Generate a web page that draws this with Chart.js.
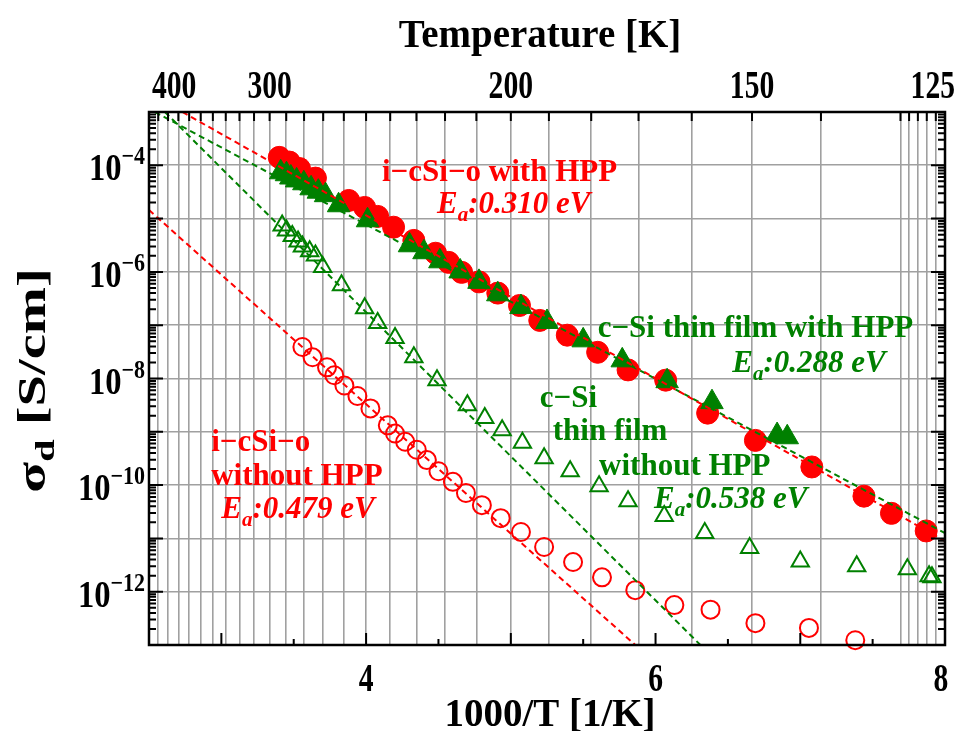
<!DOCTYPE html>
<html>
<head>
<meta charset="utf-8">
<script src="https://cdn.jsdelivr.net/npm/chart.js@4.4.0/dist/chart.umd.min.js"></script>
<style>
  html, body { margin: 0; padding: 0; background: #fff; }
  canvas { display: block; }
</style>
</head>
<body>
<canvas id="chart" width="963" height="731"></canvas>
<script>
// values: x = 1000/T [1/K], y = sigma_d [S/cm]

// i-cSi-o with HPP (red filled circles)
const icsiHppX = [3.40, 3.47, 3.54, 3.65, 3.88, 3.99, 4.08, 4.19, 4.33, 4.48, 4.57, 4.66, 4.78,
    4.91, 5.06, 5.20, 5.39, 5.60, 5.81, 6.07, 6.36, 6.69, 7.08, 7.44, 7.63, 7.87];
const icsiHppY = [1.41e-4, 1.15e-4, 8.7e-5, 5.75e-5, 2.19e-5, 1.62e-5, 1.10e-5, 6.9e-6, 3.9e-6,
    2.24e-6, 1.51e-6, 9.8e-7, 6.5e-7, 4.0e-7, 2.34e-7, 1.23e-7, 6.5e-8, 3.1e-8, 1.45e-8, 9.3e-9,
    2.24e-9, 6.9e-10, 2.19e-10, 6.2e-11, 2.95e-11, 1.38e-11];

// c-Si thin film with HPP (green filled triangles)
const csiHppX = [3.41, 3.45, 3.48, 3.52, 3.57, 3.62, 3.67, 3.72, 3.81, 4.01, 4.30, 4.40, 4.51,
    4.65, 4.78, 4.91, 5.07, 5.25, 5.50, 5.77, 6.08, 6.39, 6.84, 6.91];
const csiHppY = [7.4e-5, 6.8e-5, 5.9e-5, 5.2e-5, 4.6e-5, 3.7e-5, 3.2e-5, 2.75e-5, 1.78e-5, 9.3e-6,
    3.16e-6, 2.34e-6, 1.58e-6, 1.02e-6, 6.5e-7, 3.8e-7, 2.19e-7, 1.15e-7, 5.2e-8, 2.19e-8, 8.9e-9,
    3.6e-9, 8.7e-10, 7.9e-10];

// c-Si thin film without HPP (green open triangles)
const csiX = [3.42, 3.45, 3.49, 3.53, 3.56, 3.61, 3.65, 3.70, 3.83, 3.99, 4.08, 4.20, 4.33, 4.49,
    4.70, 4.82, 4.94, 5.08, 5.23, 5.41, 5.61, 5.81, 6.06, 6.34, 6.65, 7.00, 7.39, 7.74, 7.89, 7.91];
const csiY = [7.4e-6, 6.0e-6, 4.7e-6, 3.7e-6, 3.0e-6, 2.45e-6, 2.04e-6, 1.23e-6, 5.6e-7, 2.09e-7,
    1.10e-7, 5.75e-8, 2.5e-8, 9.3e-9, 3.16e-9, 1.82e-9, 1.07e-9, 6.2e-10, 3.2e-10, 1.82e-10,
    9.5e-11, 5.0e-11, 2.63e-11, 1.26e-11, 6.6e-12, 3.7e-12, 3.0e-12, 2.63e-12, 1.95e-12, 1.86e-12];

// i-cSi-o without HPP (red open circles)
const icsiX = [3.56, 3.63, 3.73, 3.78, 3.85, 3.94, 4.03, 4.15, 4.20, 4.27, 4.35, 4.42, 4.50, 4.60,
    4.69, 4.80, 4.93, 5.07, 5.23, 5.43, 5.63, 5.86, 6.13, 6.38, 6.69, 7.06, 7.38];
const icsiY = [3.9e-8, 2.5e-8, 1.62e-8, 1.15e-8, 7.4e-9, 4.7e-9, 2.75e-9, 1.32e-9, 9.3e-10,
    6.5e-10, 4.6e-10, 2.95e-10, 1.82e-10, 1.15e-10, 7.1e-11, 4.2e-11, 2.4e-11, 1.32e-11, 6.9e-12,
    3.6e-12, 1.86e-12, 1.07e-12, 5.6e-13, 4.6e-13, 2.57e-13, 2.09e-13, 1.23e-13];

// Arrhenius fit lines, end points as drawn
const fitIcsiHppX = [2.73, 8.0];
const fitIcsiHppY = [1e-3, 8.9e-12];
const fitCsiHppX = [2.54, 8.0];
const fitCsiHppY = [1e-3, 1.26e-11];
const fitCsiX = [2.61, 6.31];
const fitCsiY = [1e-3, 1e-13];
const fitIcsiX = [2.5, 5.86];
const fitIcsiY = [1.45e-5, 1e-13];

// axes
const invTMin = 2.5, invTMax = 8;
const sigmaMin = 1e-13, sigmaMax = 1e-3;
const tempGrid = [400, 390, 380, 370, 360, 350, 340, 330, 320, 310, 300, 290, 280, 270, 260,
    250, 240, 230, 220, 210, 200, 190, 180, 170, 160, 150, 140, 130, 129, 128, 127, 126, 125];
const tempLabels = [400, 300, 200, 150, 125];
const invTLabels = [4, 6, 8];
const sigmaDecades = [-13, -12, -11, -10, -9, -8, -7, -6, -5, -4, -3];
const sigmaLabelExps = [-12, -10, -8, -6, -4];

const SERIF = '"Liberation Serif", "Times New Roman", serif';
const RED = '#ff0000';
const GREEN = '#008000';

const pts = (xs, ys) => xs.map((x, i) => ({ x: x, y: ys[i] }));

// text annotations, anchored in data coordinates (left edge, baseline)
const notes = [
    { color: RED, x: 4.11, y: 5.0e-5, text: 'i−cSi−o with HPP' },
    { color: RED, x: 4.49, y: 1.26e-5, ea: '0.310' },
    { color: GREEN, x: 5.60, y: 5.96e-8, text: 'c−Si thin film with HPP' },
    { color: GREEN, x: 6.53, y: 1.32e-8, ea: '0.288' },
    { color: GREEN, x: 5.20, y: 2.88e-9, text: 'c−Si' },
    { color: GREEN, x: 5.29, y: 6.9e-10, text: 'thin film' },
    { color: GREEN, x: 5.61, y: 1.55e-10, text: 'without HPP' },
    { color: GREEN, x: 5.99, y: 3.7e-11, ea: '0.538' },
    { color: RED, x: 2.93, y: 4.4e-10, text: 'i−cSi−o' },
    { color: RED, x: 2.93, y: 1.0e-10, text: 'without HPP' },
    { color: RED, x: 3.00, y: 2.4e-11, ea: '0.479' }
];

// draw a run of text pieces, sx squeezes/stretches along the baseline
function drawRich(ctx, parts, x, y, align, sx) {
    let total = 0;
    parts.forEach(p => {
        ctx.font = p.font;
        p.w = ctx.measureText(p.text).width * sx;
        total += p.w;
    });
    let cx = align === 'center' ? x - total / 2 : (align === 'right' ? x - total : x);
    parts.forEach(p => {
        ctx.save();
        ctx.font = p.font;
        ctx.textAlign = 'left';
        ctx.textBaseline = 'alphabetic';
        ctx.translate(cx, y + (p.dy || 0));
        ctx.scale(sx, 1);
        ctx.fillText(p.text, 0, 0);
        ctx.restore();
        cx += p.w;
    });
    return total;
}

const axisDecor = {
    id: 'axisDecor',
    afterDraw(chart) {
        const { ctx, chartArea: a, scales } = chart;
        const xB = scales.x, xT = scales.xT, yL = scales.y;
        ctx.save();

        // inward tick marks
        ctx.strokeStyle = '#000';
        ctx.lineWidth = 2;
        ctx.beginPath();
        xB.ticks.forEach(t => {
            const px = xB.getPixelForValue(t.value);
            const len = Math.abs(t.value - Math.round(t.value)) < 1e-6 ? 12 : 6;
            ctx.moveTo(px, a.bottom);
            ctx.lineTo(px, a.bottom - len);
        });
        xT.ticks.forEach(t => {
            const px = xT.getPixelForValue(t.value);
            ctx.moveTo(px, a.top);
            ctx.lineTo(px, a.top + 9);
        });
        sigmaDecades.forEach(e => {
            for (let m = 1; m <= 9; m++) {
                const v = m * Math.pow(10, e);
                if (v > sigmaMax * 1.0001) break;
                const py = yL.getPixelForValue(v);
                const len = m === 1 ? 14 : 7;
                ctx.moveTo(a.left, py);
                ctx.lineTo(a.left + len, py);
                ctx.moveTo(a.right, py);
                ctx.lineTo(a.right - len, py);
            }
        });
        ctx.stroke();

        ctx.lineWidth = 2.5;
        ctx.strokeRect(a.left, a.top, a.right - a.left, a.bottom - a.top);

        // axis labels
        ctx.fillStyle = '#000';
        const tickFont = 'bold 40px ' + SERIF;
        const tickSx = 0.74;
        tempLabels.forEach(T => {
            const px = xT.getPixelForValue(1000 / T);
            ctx.font = tickFont;
            const w = ctx.measureText(String(T)).width * tickSx;
            const cx = Math.min(Math.max(px, a.left + 3 + w / 2), chart.width - 8 - w / 2);
            drawRich(ctx, [{ text: String(T), font: tickFont }], cx, a.top - 14, 'center', tickSx);
        });
        drawRich(ctx, [{ text: 'Temperature [K]', font: 'bold 41px ' + SERIF }],
            (a.left + a.right) / 2 - 7, 47, 'center', 0.95);

        invTLabels.forEach(v => {
            const px = xB.getPixelForValue(v);
            drawRich(ctx, [{ text: String(v), font: tickFont }], Math.min(px, chart.width - 22), a.bottom + 46, 'center', tickSx);
        });
        drawRich(ctx, [{ text: '1000/T [1/K]', font: 'bold 41px ' + SERIF }],
            (a.left + a.right) / 2 + 3, 726, 'center', 0.95);

        sigmaLabelExps.forEach(e => {
            const py = yL.getPixelForValue(Math.pow(10, e));
            drawRich(ctx, [
                { text: '10', font: 'bold 37px ' + SERIF, dy: 15 },
                { text: '−' + Math.abs(e), font: 'bold 25px ' + SERIF, dy: -1 }
            ], a.left - 4, py, 'right', 0.88);
        });

        ctx.save();
        ctx.translate(45, (a.top + a.bottom) / 2 + 2);
        ctx.rotate(-Math.PI / 2);
        drawRich(ctx, [
            { text: 'σ', font: 'bold 39px ' + SERIF },
            { text: 'd', font: 'bold 28px ' + SERIF, dy: 9 },
            { text: ' [S/cm]', font: 'bold 39px ' + SERIF }
        ], 0, 0, 'center', 1.45);
        ctx.restore();

        // annotations
        notes.forEach(n => {
            const px = xB.getPixelForValue(n.x);
            const py = yL.getPixelForValue(n.y);
            ctx.fillStyle = n.color;
            if (n.text) {
                drawRich(ctx, [{ text: n.text, font: 'bold 31px ' + SERIF }], px, py, 'left', 1);
            } else {
                drawRich(ctx, [
                    { text: 'E', font: 'italic bold 31px ' + SERIF },
                    { text: 'a', font: 'italic bold 21px ' + SERIF, dy: 8 },
                    { text: ':' + n.ea + ' eV', font: 'italic bold 31px ' + SERIF }
                ], px, py, 'left', 1);
            }
        });
        ctx.restore();
    }
};

const fitLine = (xs, ys, color) => ({
    data: pts(xs, ys),
    showLine: true,
    borderColor: color,
    borderWidth: 2,
    borderDash: [6, 4],
    pointRadius: 0,
    pointHoverRadius: 0,
    fill: false,
    order: 0
});

new Chart(document.getElementById('chart').getContext('2d'), {
    type: 'scatter',
    data: {
        datasets: [
            fitLine(fitIcsiHppX, fitIcsiHppY, RED),
            fitLine(fitCsiHppX, fitCsiHppY, GREEN),
            fitLine(fitCsiX, fitCsiY, GREEN),
            fitLine(fitIcsiX, fitIcsiY, RED),
            {
                label: 'c-Si thin film with HPP',
                data: pts(csiHppX, csiHppY),
                pointStyle: 'triangle', pointRadius: 13,
                backgroundColor: GREEN, borderColor: GREEN, borderWidth: 1,
                clip: false, order: 1
            },
            {
                label: 'i-cSi-o with HPP',
                data: pts(icsiHppX, icsiHppY),
                pointStyle: 'circle', pointRadius: 11,
                backgroundColor: RED, borderColor: RED, borderWidth: 1,
                clip: false, order: 2
            },
            {
                label: 'c-Si thin film without HPP',
                data: pts(csiX, csiY),
                pointStyle: 'triangle', pointRadius: 10,
                backgroundColor: 'rgba(0,0,0,0)', borderColor: GREEN, borderWidth: 2,
                clip: false, order: 3
            },
            {
                label: 'i-cSi-o without HPP',
                data: pts(icsiX, icsiY),
                pointStyle: 'circle', pointRadius: 9,
                backgroundColor: 'rgba(0,0,0,0)', borderColor: RED, borderWidth: 2,
                clip: false, order: 3
            }
        ]
    },
    options: {
        responsive: false,
        animation: false,
        layout: { padding: 0 },
        plugins: { legend: { display: false }, tooltip: { enabled: false } },
        scales: {
            x: {
                type: 'linear', position: 'bottom', min: invTMin, max: invTMax,
                ticks: { display: false, stepSize: 0.5 },
                grid: { display: false }, border: { display: false },
                afterFit: s => { s.height = 86; }
            },
            xT: {
                type: 'linear', position: 'top', min: invTMin, max: invTMax,
                afterBuildTicks: s => { s.ticks = tempGrid.map(T => ({ value: 1000 / T })); },
                ticks: { display: false },
                grid: { color: '#a0a0a0', lineWidth: 1.6, drawTicks: false },
                border: { display: false },
                afterFit: s => { s.height = 112; }
            },
            y: {
                type: 'logarithmic', position: 'left', min: sigmaMin, max: sigmaMax,
                afterBuildTicks: s => { s.ticks = sigmaDecades.map(e => ({ value: Math.pow(10, e) })); },
                ticks: { display: false },
                grid: { color: '#a0a0a0', lineWidth: 1.6, drawTicks: false },
                border: { display: false },
                afterFit: s => { s.width = 149; }
            },
            yR: {
                type: 'logarithmic', position: 'right', min: sigmaMin, max: sigmaMax,
                ticks: { display: false },
                grid: { display: false }, border: { display: false },
                afterFit: s => { s.width = 18; }
            }
        }
    },
    plugins: [axisDecor]
});
</script>
</body>
</html>
